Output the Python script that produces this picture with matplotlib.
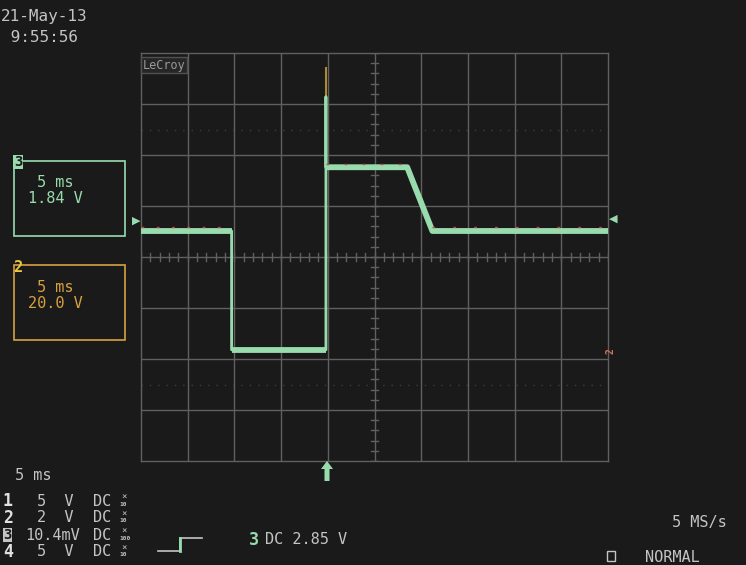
import numpy as np
import matplotlib.pyplot as plt

W, H = 746, 565

# trace of channel 3 (time in ms, level in divisions)
t_ms = [-25, -15.3, -15.3, -5.2, -5.2, -5.2, 3.5, 6.2, 25]
v_div = [0.51, 0.51, -1.82, -1.82, 3.14, 1.76, 1.76, 0.51, 0.51]
# flat parts of the trace (drawn thicker, they carry the noise band)
flat_t = [[-25, -15.3], [-15.3, -5.2], [-5.2, 3.5, 6.2, 25]]
flat_v = [[0.51, 0.51], [-1.82, -1.82], [1.76, 1.76, 0.51, 0.51]]
# overshoot on channel 2 at the rising edge
spike_t = [-5.2, -5.2]
spike_v = [3.14, 3.7]

bg = '#1a1a1a'
grid_c = '#606060'
green = '#98dcae'
orange = '#d8a040'
txt = '#c4c4c4'
mono = 'DejaVu Sans Mono'
fs = 11

fig = plt.figure(figsize=(W / 100, H / 100), dpi=100, facecolor=bg)

def px(x, y):
    return x / W, 1 - y / H

gl, gr, gt, gb = 141, 608, 53, 461
ax = fig.add_axes([gl / W, 1 - gb / H, (gr - gl) / W, (gb - gt) / H])
ax.set_facecolor(bg)
ax.set_xlim(-25, 25)
ax.set_ylim(-4, 4)
ax.set_xticks([])
ax.set_yticks([])
for s in ax.spines.values():
    s.set_color(grid_c)
    s.set_linewidth(1)

# grid
for x in np.arange(-20, 25, 5):
    ax.axvline(x, color=grid_c, lw=1)
for y in np.arange(-3, 4, 1):
    ax.axhline(y, color=grid_c, lw=1)
for y in [2.5, -2.5]:
    ax.axhline(y, color=grid_c, lw=1, ls=(0, (1, 5)), alpha=0.5)
# centre ticks
for x in np.arange(-25, 25.01, 1):
    ax.plot([x, x], [-0.07, 0.07], color=grid_c, lw=1)
for y in np.arange(-4, 4.01, 0.2):
    ax.plot([-0.35, 0.35], [y, y], color=grid_c, lw=1)

# traces
ax.plot(spike_t, spike_v, color='#b08830', lw=1.5, zorder=4)
ax.plot(t_ms, v_div, color=green, lw=2, zorder=5)
for ft, fv in zip(flat_t, flat_v):
    ax.plot(ft, fv, color=green, lw=4.2, solid_capstyle='butt', zorder=5)
ax.plot([-25, -15.3], [0.58, 0.58], color='#c04a40', lw=1, ls=(0, (2, 9)), zorder=6)
ax.plot([-5.2, 3.5], [1.83, 1.83], color='#c04a40', lw=1, ls=(0, (2, 11)), zorder=6)
ax.plot([6.2, 25], [0.58, 0.58], color='#c04a40', lw=1, ls=(0, (2, 13)), zorder=6)

# LeCroy logo
fig.text(*px(143, 65), 'LeCroy', color='#9a9a9a', fontsize=8.5, family=mono,
         va='center', ha='left', bbox=dict(fc='#262626', ec='#505050', pad=1.2))
fig.add_artist(plt.Line2D([143 / W, 184 / W], [1 - 72 / H, 1 - 72 / H],
                          transform=fig.transFigure, color='#9a9a9a', lw=1))

# markers
fig.text(*px(136, 221), '\u25b6', color=green, fontsize=8, ha='center', va='center')
fig.text(*px(613, 219), '\u25c0', color=green, fontsize=8, ha='center', va='center')
arrow = plt.Polygon([px(327, 461), px(333, 469), px(329.5, 469), px(329.5, 481),
                     px(324.5, 481), px(324.5, 469), px(321, 469)],
                    closed=True, transform=fig.transFigure, fc=green, ec='none')
fig.add_artist(arrow)
fig.text(*px(611, 351), '2', color='#d87060', fontsize=7, ha='center', va='center',
         rotation=90, family=mono, fontweight='bold')

# date
fig.text(*px(1, 17), '21-May-13', color=txt, fontsize=11.5, family=mono, va='center')
fig.text(*px(1, 37), ' 9:55:56', color=txt, fontsize=11.5, family=mono, va='center')

# channel boxes
for y0, col, ch, vtxt in [(161, green, '3', '1.84 V'), (265, orange, '2', '20.0 V')]:
    box = plt.Rectangle(px(14, y0 + 75), 111 / W, 75 / H, transform=fig.transFigure,
                        fill=False, ec=col, lw=1.2)
    fig.add_artist(box)
    if ch == '3':
        fig.text(*px(18, y0 + 1), ch, color=bg, fontsize=10, family=mono, va='center',
                 ha='center', fontweight='bold',
                 bbox=dict(fc=col, ec='none', pad=0.3))
    else:
        fig.text(*px(18, y0 + 3), ch, color='#e8c840', fontsize=11, family=mono,
                 va='center', ha='center', fontweight='bold')
    fig.text(*px(37, y0 + 22), '5 ms', color=col, fontsize=fs, family=mono, va='center')
    fig.text(*px(28, y0 + 38), vtxt, color=col, fontsize=fs, family=mono, va='center')

# bottom text
fig.text(*px(15, 476), '5 ms', color=txt, fontsize=fs, family=mono, va='center')
rows = [('1', '5  V', '10'), ('2', '2  V', '10'), ('3', '10.4mV', '100'), ('4', '5  V', '10')]
for i, (ch, volt, probe) in enumerate(rows):
    y = 501 + i * 17
    if ch == '3':
        fig.text(*px(3, y), ch, color=bg, fontsize=10, family=mono, va='center',
                 fontweight='bold', bbox=dict(fc=txt, ec='none', pad=0.2))
    else:
        fig.text(*px(3, y), ch, color='#e0e0e0', fontsize=12, family=mono, va='center',
                 fontweight='bold')
    vx = 25 if ch == '3' else 37
    fig.text(*px(vx, y), volt, color=txt, fontsize=fs, family=mono, va='center')
    fig.text(*px(93, y), 'DC', color=txt, fontsize=fs, family=mono, va='center')
    fig.text(*px(121, y - 4), '\u00d7', color=txt, fontsize=6.5, family=mono, va='center')
    fig.text(*px(119, y + 3), probe, color=txt, fontsize=4.5, family=mono, va='center',
             fontweight='bold')

# trigger symbol
fig.add_artist(plt.Line2D([158 / W, 180 / W, 180 / W, 202 / W],
                          [1 - 551 / H, 1 - 551 / H, 1 - 538 / H, 1 - 538 / H],
                          transform=fig.transFigure, color=txt, lw=1.2))
fig.add_artist(plt.Line2D([180 / W, 180 / W], [1 - 551 / H, 1 - 538 / H],
                          transform=fig.transFigure, color=green, lw=2))
fig.text(*px(249, 540), '3', color=green, fontsize=12, family=mono, va='center',
         fontweight='bold')
fig.text(*px(265, 540), 'DC 2.85 V', color=txt, fontsize=fs, family=mono, va='center')

fig.text(*px(672, 522), '5 MS/s', color=txt, fontsize=fs, family=mono, va='center')
fig.add_artist(plt.Rectangle(px(607, 561), 8 / W, 10 / H, transform=fig.transFigure,
                             fill=False, ec=txt, lw=1))
fig.text(*px(645, 557), 'NORMAL', color=txt, fontsize=fs, family=mono, va='center')

fig.savefig('out.png', dpi=100, facecolor=bg)
